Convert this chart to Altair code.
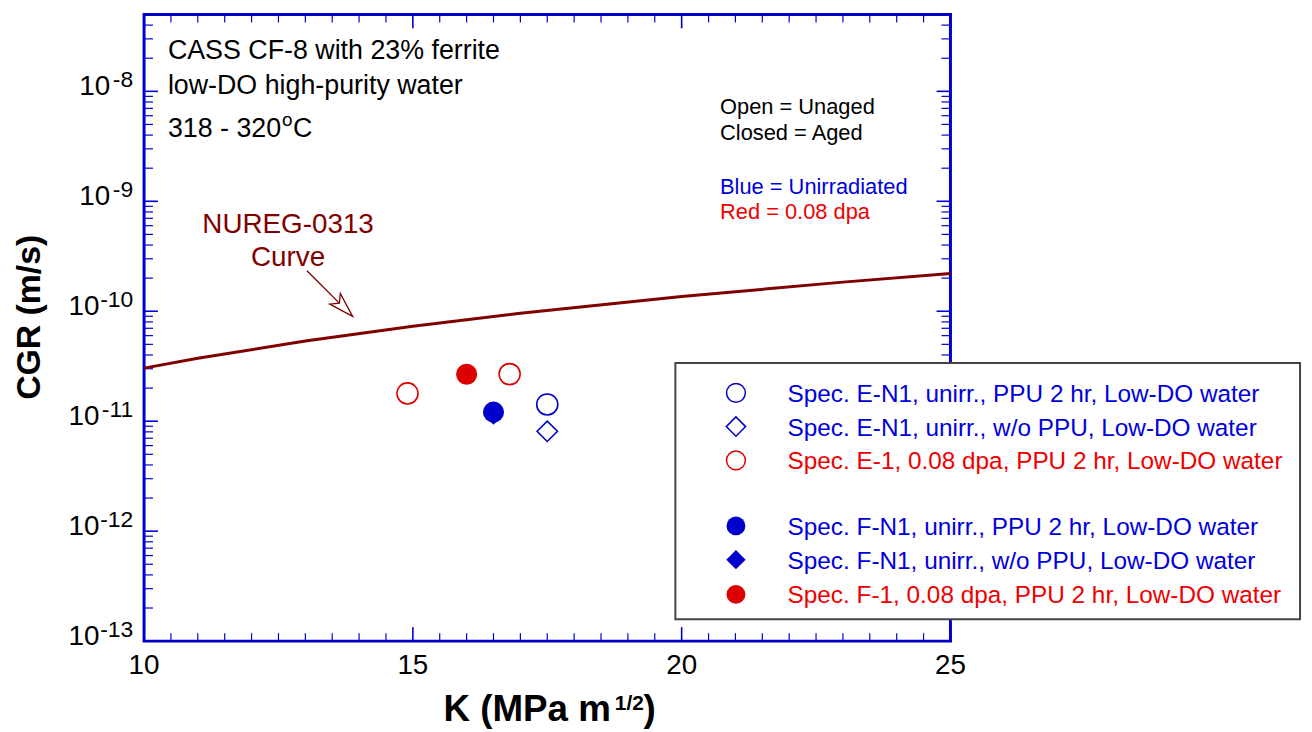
import altair as alt
import pandas as pd

FONT = "Liberation Sans"
BLUE = "#0000cc"
RED = "#dd0000"
DARKRED = "#800000"
FRAME = "#0000cc"

W, H = 812, 631
XDOM = [10, 25]
YDOM = [1e-13, 5e-8]

# ---------------- data ----------------
nureg_k = [10, 11, 13, 15, 17, 20, 23, 25]
nureg_cgr = [3.04e-11, 3.74e-11, 5.36e-11, 7.31e-11, 9.58e-11, 1.36e-10, 1.84e-10, 2.20e-10]

series_labels = [
    "Spec. E-N1, unirr., PPU 2 hr, Low-DO water",
    "Spec. E-N1, unirr., w/o PPU, Low-DO water",
    "Spec. E-1, 0.08 dpa, PPU 2 hr, Low-DO water",
    "Spec. F-N1, unirr., PPU 2 hr, Low-DO water",
    "Spec. F-N1, unirr., w/o PPU, Low-DO water",
    "Spec. F-1, 0.08 dpa, PPU 2 hr, Low-DO water",
]
series_k = [[17.5], [17.5], [14.9, 16.8], [16.5], [16.5], [16.0]]
series_cgr = [[1.42e-11], [8.1e-12], [1.79e-11, 2.68e-11], [1.21e-11], [1.15e-11], [2.67e-11]]

x_tick_labels = [10, 15, 20, 25]
x_minor = [v / 2 for v in range(21, 50) if v % 10 != 0]
y_decades = [1e-13, 1e-12, 1e-11, 1e-10, 1e-9, 1e-8]
y_exponents = ["-13", "-12", "-11", "-10", "-9", "-8"]
y_minor = [m * d for d in y_decades for m in range(2, 10) if m * d < 5e-8]

# styles (kept separate from data)
series_color = [BLUE, BLUE, RED, BLUE, BLUE, RED]
series_shape = ["circle", "diamond", "circle", "circle", "diamond", "circle"]
series_filled = [False, False, False, True, True, True]

xs = alt.Scale(domain=XDOM, nice=False, zero=False)
ys = alt.Scale(type="log", domain=YDOM, nice=False)


def X(f):
    return alt.X(f, type="quantitative", scale=xs, axis=None)


def Y(f):
    return alt.Y(f, type="quantitative", scale=ys, axis=None)


def one(text):
    return alt.Chart(pd.DataFrame({"t": [text]}))


layers = []

# ---- ticks (inward) ----
ymaj = pd.DataFrame({"v": y_decades})
ymin = pd.DataFrame({"v": y_minor})
xmaj = pd.DataFrame({"v": x_tick_labels})
xmin = pd.DataFrame({"v": x_minor})
for df, ln, sw in [(ymaj, 14, 1.6), (ymin, 9, 1.2)]:
    layers.append(alt.Chart(df).mark_rule(color=FRAME, strokeWidth=sw).encode(
        y=Y("v"), x=alt.value(0), x2=alt.value(ln)))
    layers.append(alt.Chart(df).mark_rule(color=FRAME, strokeWidth=sw).encode(
        y=Y("v"), x=alt.value(W), x2=alt.value(W - ln)))
for df, ln, sw in [(xmaj, 14, 1.6), (xmin, 8, 1.2)]:
    layers.append(alt.Chart(df).mark_rule(color=FRAME, strokeWidth=sw).encode(
        x=X("v"), y=alt.value(H), y2=alt.value(H - ln)))
    layers.append(alt.Chart(df).mark_rule(color=FRAME, strokeWidth=sw).encode(
        x=X("v"), y=alt.value(0), y2=alt.value(ln)))

# ---- tick labels ----
xl = pd.DataFrame({"v": x_tick_labels, "t": [str(v) for v in x_tick_labels]})
layers.append(alt.Chart(xl).mark_text(font=FONT, fontSize=28, align="center", baseline="alphabetic",
                                      color="black").encode(x=X("v"), y=alt.value(H + 33), text="t:N"))
yl = pd.DataFrame({"v": y_decades, "e": y_exponents})
yl1 = yl[yl["e"].str.len() == 2]
yl2 = yl[yl["e"].str.len() == 3]
for df, xr in [(yl1, -34), (yl2, -45)]:
    layers.append(alt.Chart(df).mark_text(font=FONT, fontSize=28, align="right", baseline="alphabetic",
                                          dy=4, color="black", text="10").encode(
        y=Y("v"), x=alt.value(xr)))
layers.append(alt.Chart(yl).mark_text(font=FONT, fontSize=23, align="right", baseline="alphabetic",
                                      dy=-4, color="black").encode(y=Y("v"), x=alt.value(-11), text="e:N"))

# ---- NUREG curve ----
layers.append(alt.Chart(pd.DataFrame({"k": nureg_k, "c": nureg_cgr})).mark_line(
    color=DARKRED, strokeWidth=3).encode(x=X("k"), y=Y("c")))

# ---- data points ----
order = [0, 1, 2, 4, 3, 5]
for i in order:
    df = pd.DataFrame({"k": series_k[i], "c": series_cgr[i]})
    size = 420 if series_shape[i] == "diamond" else 450
    layers.append(alt.Chart(df).mark_point(
        shape=series_shape[i], filled=series_filled[i], color=series_color[i],
        size=size, strokeWidth=1.6, opacity=1,
        fill=series_color[i] if series_filled[i] else "transparent").encode(x=X("k"), y=Y("c")))

# ---- annotations ----
def txt(t, x, y, size=27, color="black", align="left", weight="normal", angle=0, baseline="alphabetic"):
    kw = dict(font=FONT, fontSize=size, color=color, align=align, fontWeight=weight,
              baseline=baseline, text=t)
    if angle:
        kw["angle"] = angle
    return one(t).mark_text(**kw).encode(x=alt.value(x), y=alt.value(y))


layers += [
    txt("CASS CF-8 with 23% ferrite", 24, 45),
    txt("low-DO high-purity water", 24, 80),
    txt("318 - 320", 24, 123),
    txt("o", 139, 112, size=19),
    txt("C", 150, 123),
    txt("Open = Unaged", 580, 100, size=22),
    txt("Closed = Aged", 580, 126, size=22),
    txt("Blue = Unirradiated", 580, 181, size=22, color="#0000dd"),
    txt("Red = 0.08 dpa", 580, 206, size=22, color="#ee0000"),
    txt("NUREG-0313", 145, 220, size=28, color=DARKRED, align="center"),
    txt("Curve", 145, 253, size=28, color=DARKRED, align="center"),
]

# arrow
layers.append(one("a").mark_rule(color=DARKRED, strokeWidth=1.3).encode(
    x=alt.value(164), y=alt.value(258), x2=alt.value(208), y2=alt.value(302)))
layers.append(one("a").mark_point(
    shape="M0,0L-1,-0.3L-0.75,0L-1,0.3Z", size=2500, angle=45, filled=True,
    fill="white", stroke=DARKRED, strokeWidth=1.3, opacity=1).encode(
    x=alt.value(210), y=alt.value(304)))

# axis titles
layers.append(txt("CGR (m/s)", -115, 305, size=34, weight="bold", align="center", angle=270,
                  baseline="middle"))
layers.append(txt("K (MPa m", 470, 711, size=37, weight="bold", align="right"))
layers.append(txt("1/2", 474, 700, size=21, weight="bold"))
layers.append(txt(")", 503, 711, size=37, weight="bold"))

# ---- legend ----
layers.append(one("box").mark_rect(fill="white", stroke="#444444", strokeWidth=2).encode(
    x=alt.value(535), x2=alt.value(1164), y=alt.value(351), y2=alt.value(609)))
row_centers = [381, 415, 449, 515, 549, 584]
for i, yc in enumerate(row_centers):
    sz = 380 if series_shape[i] == "diamond" else 360
    layers.append(one(series_labels[i]).mark_point(
        shape=series_shape[i], filled=series_filled[i], color=series_color[i],
        size=sz, strokeWidth=1.5, opacity=1,
        fill=series_color[i] if series_filled[i] else "transparent").encode(
        x=alt.value(596), y=alt.value(yc)))
    layers.append(one(series_labels[i]).mark_text(
        font=FONT, fontSize=24.5, align="left", baseline="alphabetic",
        color=("#0000dd" if series_color[i] == BLUE else "#ee0000")).encode(
        x=alt.value(648), y=alt.value(yc + 9), text="t:N"))

chart = alt.layer(*layers).properties(
    width=W, height=H,
    padding={"left": 137, "top": 4, "right": 356, "bottom": 89},
    autosize=alt.AutoSizeParams(type="none"),
).configure_view(stroke=FRAME, strokeWidth=3)

chart.save("out.html", embed_options={"renderer": "svg", "actions": False})
